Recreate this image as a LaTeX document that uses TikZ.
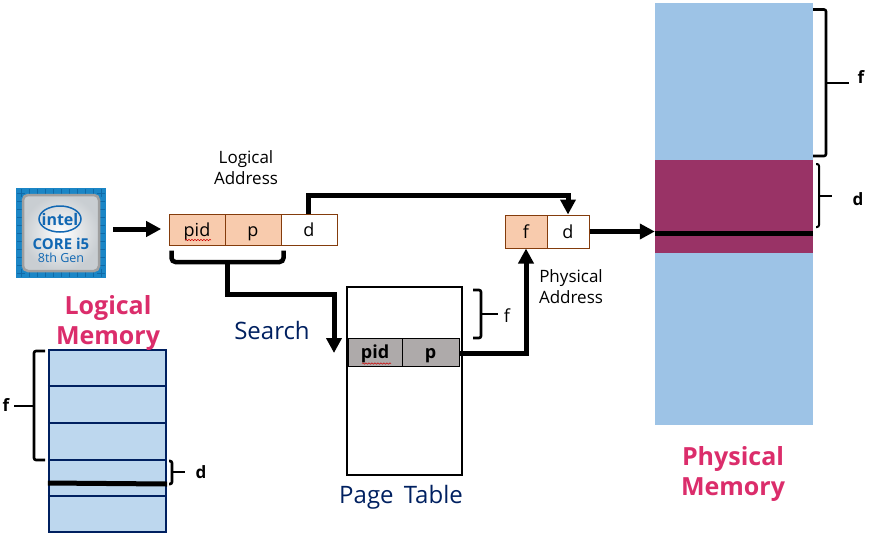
\documentclass[tikz,border=0pt]{standalone}
\usepackage{fontspec}
\setmainfont{Open Sans}
\usepackage{tikz}
\usetikzlibrary{arrows.meta, positioning, calc}
\usetikzlibrary{decorations.pathmorphing}

\definecolor{cellfill}{HTML}{F8CBAD}
\definecolor{celledge}{HTML}{843C0C}
\definecolor{tablefill}{HTML}{AEAAAA}
\definecolor{logfill}{HTML}{BDD7EE}
\definecolor{navy}{HTML}{002060}
\definecolor{physfill}{HTML}{9DC3E6}
\definecolor{framefill}{HTML}{993366}
\definecolor{titlepink}{HTML}{DB2D6B}
\definecolor{chipblue}{HTML}{1B86C6}
\definecolor{chipdark}{HTML}{0F6AA8}
\definecolor{chipgrey}{HTML}{C9CED2}
\definecolor{chiptext}{HTML}{1268B3}

\newcommand{\px}[1]{\fontsize{#1}{#1}\selectfont}

\tikzset{
    cell/.style = {draw = celledge, line width = 1pt, minimum height = 31pt, inner sep = 0pt, text height = 16pt, text depth = 3pt, text = black, font = \px{18}},
    rowcell/.style = {draw = black, line width = 1pt, fill = tablefill, minimum height = 28pt, inner sep = 0pt, text height = 16pt, text depth = 3pt, font = \px{18}\bfseries},
    memline/.style = {navy, line width = 1.7pt},
    link/.style = {line width = 5pt, -{Triangle[length = 15pt, width = 15pt]}},
    bracket/.style = {line width = 2.6pt, rounded corners = 2pt},
    title/.style = {text = titlepink, font = \px{25}\bfseries, align = center},
    note/.style = {font = \px{17}, align = center},
    squiggle/.style = {red!80!black, line width = 0.5pt, decorate, decoration = {snake, amplitude = 0.7pt, segment length = 3pt}}
}

\begin{document}
\begin{tikzpicture}[x = 1pt, y = -1pt]
    \useasboundingbox (0,0) rectangle (872,536);

    % chip
    \node[fill = chipblue, minimum size = 90pt, inner sep = 0pt] (chip) at (61,233) {};
    \foreach \t in {-40, -32, ..., 40}
        \draw[chipdark, line width = 1pt] ($(chip)+(\t,-44)$) -- ++(0,8) ($(chip)+(\t,44)$) -- ++(0,-8) ($(chip)+(-44,\t)$) -- ++(8,0) ($(chip)+(44,\t)$) -- ++(-8,0);
    \node[draw = gray!75, line width = 2.5pt, rounded corners = 5pt, inner color = white, outer color = chipgrey, minimum size = 76pt, inner sep = 0pt] (lid) at (chip) {};
    \node[text = chiptext, font = \px{16}\bfseries, inner sep = 0pt] (intel) at (60,219) {intel};
    \draw[chiptext, line width = 1.5pt] (intel) ellipse (21pt and 13pt);
    \node[text = chiptext, font = \px{15}\bfseries, inner sep = 0pt] (core) at (61,244) {CORE i5};
    \node[text = chiptext, font = \px{12.5}, inner sep = 0pt] (gen) at (61,258) {8th Gen};

    % logical address
    \node[cell, fill = cellfill, minimum width = 56pt] (pid) at (197,229.5) {pid};
    \node[cell, fill = cellfill, minimum width = 56pt] (p) at (253,229.5) {p};
    \node[cell, minimum width = 56pt] (d) at (309,229.5) {d};
    \node[note] (logaddr) at (246,168) {Logical\\[4pt]Address};
    \draw[squiggle] (185,240) -- (211,240);

    % physical address
    \node[cell, fill = cellfill, minimum width = 42pt, minimum height = 33pt] (f2) at (526,231.5) {f};
    \node[cell, minimum width = 42pt, minimum height = 33pt] (d2) at (568,231.5) {d};
    \node[note] (physaddr) at (571,287) {Physical\\[4pt]Address};

    % page table
    \node[draw, line width = 2.4pt, minimum width = 115pt, minimum height = 188pt, inner sep = 0pt] (table) at (404.5,381) {};
    \node[rowcell, minimum width = 54pt] (rowpid) at (375,352) {pid};
    \node[rowcell, minimum width = 57pt] (rowp) at (430.5,352) {p};
    \draw[squiggle] (362,363.5) -- (391,363.5);
    \node[text = navy, font = \px{24}] (pagetable) at (401,497) {Page\, Table};
    \node[text = navy, font = \px{24}] (search) at (272,330) {Search};

    % logical memory
    \node[draw = navy, line width = 2.2pt, fill = logfill, minimum width = 117pt, minimum height = 182pt, inner sep = 0pt] (logmem) at (107.5,441) {};
    \draw[memline, line width = 2.4pt] (logmem.west |- 0,386) -- (logmem.east |- 0,386);
    \foreach \y in {423, 460, 496}
        \draw[memline] (logmem.west |- 0,\y) -- (logmem.east |- 0,\y);
    \coordinate (lineL) at (logmem.west |- 0,483);
    \coordinate (lineR) at (logmem.east |- 0,484);
    \draw[line width = 5pt] (lineL) -- (lineR);
    \node[title] (logtitle) at (108,323) {Logical\\[5pt]Memory};

    % physical memory
    \node[fill = physfill, minimum width = 158pt, minimum height = 422pt, inner sep = 0pt] (physmem) at (734,214) {};
    \node[fill = framefill, minimum width = 158pt, minimum height = 93pt, inner sep = 0pt] (frame) at (734,206.5) {};
    \node[title] (phystitle) at (733,474) {Physical\\[5pt]Memory};

    % connectors
    \draw[line width = 5pt] (frame.west |- 0,233) -- (frame.east |- 0,233);
    \draw[link] (chip.east |- 0,229) ++(7,0) -- ++(48,0);
    \draw[link] (d.north -| 308,0) -- ++(0,-18) -| (d2.north);
    \draw[link] (d2.east) -- (frame.west |- d2.east);
    \draw[link] (rowp.east) ++(0,1) -| (f2.south);
    \coordinate (bl) at ($(pid.south west)+(3,5)$);
    \coordinate (br) at ($(p.south east)+(2,5)$);
    \draw[line width = 4.5pt, rounded corners = 4pt] (bl) |- (227,262) -| (br);
    \draw[link] (227,262) |- (334,294) -- (334,353);

    % braces
    \draw[bracket] (45,351) -| (34,460) -- (45,460);
    \draw[bracket] (14,406) -- (34,406);
    \node[font = \px{17}\bfseries, inner sep = 0pt] (lf) at (6,405) {f};

    \draw[bracket] (169,461) -| (172,484) -- (169,484);
    \draw[bracket] (172,472) -- (185,472);
    \node[font = \px{17}\bfseries, inner sep = 0pt] (ld) at (201,472) {d};

    \draw[bracket] (473,290) -| (481,338) -- (473,338);
    \draw[bracket] (481,314) -- (498,314);
    \node[font = \px{18}, inner sep = 0pt] (tf) at (507,316) {f};

    \draw[bracket] (813,9.5) -| (826,156) -- (813,156);
    \draw[bracket] (826,83) -- (849,83);
    \node[font = \px{17}\bfseries, inner sep = 0pt] (pf) at (861,77) {f};

    \draw[bracket, line width = 2pt] (816,164) -| (819,227) -- (816,227);
    \draw[bracket] (819,196) -- (832,196);
    \node[font = \px{17}\bfseries, inner sep = 0pt] (pd) at (858,199) {d};
\end{tikzpicture}
\end{document}
